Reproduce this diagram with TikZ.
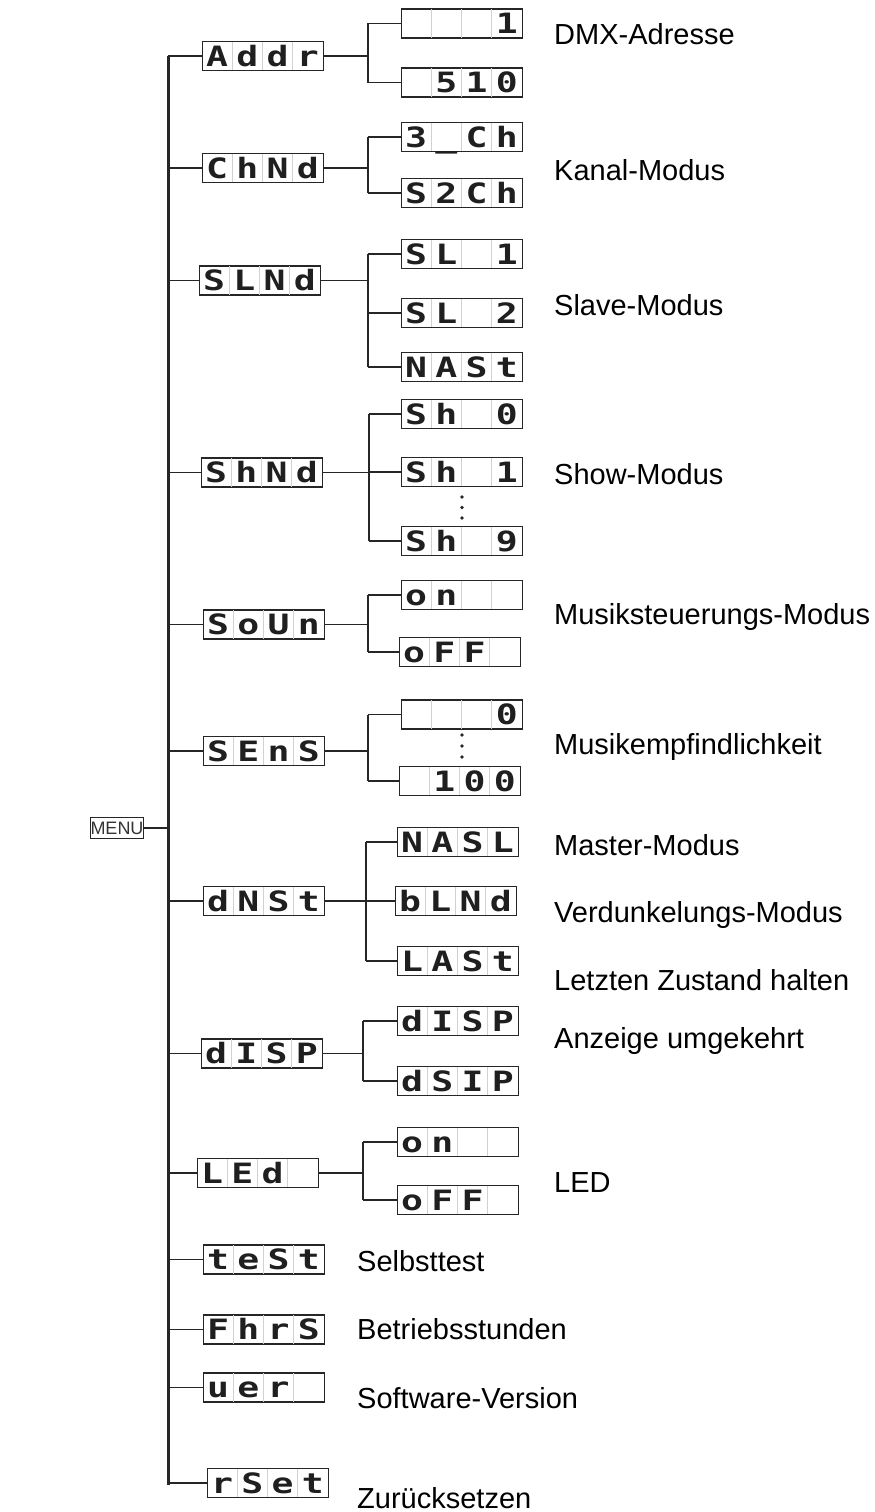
\documentclass[tikz,border=0pt]{standalone}
\usepackage{fontspec}
\setmainfont{Liberation Sans}
\newfontfamily\segfont[FakeStretch=1.3]{DejaVu Sans Mono}
\usetikzlibrary{calc}
\tikzset{
  dispbox/.style={draw=black!85, line width=1.3pt, minimum width=121pt, minimum height=29pt, inner sep=0pt, anchor=west},
  celldiv/.style={draw=black!18, line width=0.8pt},
  segtxt/.style={font=\segfont\bfseries\fontsize{28}{28}\selectfont, inner sep=0pt, anchor=base, text=black!88},
  lbl/.style={font=\fontsize{29}{34}\selectfont, anchor=base west, inner sep=0pt},
  conn/.style={line width=1.3pt, draw=black!85},
  thickconn/.style={line width=2.6pt, draw=black!85},
  mainline/.style={line width=3pt, draw=black!85},
  menubox/.style={draw=black!85, line width=1.1pt, minimum width=46pt, minimum height=21pt, inner sep=0pt, font=\fontsize{18}{18}\selectfont, text=black!80},
  dotmark/.style={circle, fill=black!85, inner sep=0pt, minimum size=3.6pt},
}
\newcommand\disp[7]{%
  \node[dispbox] (#1) at (#2,#3) {};
  \foreach \k in {1,2,3}{\draw[celldiv] ($(#1.north west)+(\k*30.25,0.8)$) -- ($(#1.south west)+(\k*30.25,-0.8)$);}
  \node[segtxt] (#1-1) at ($(#1.west)+(15.1,10.2)$) {#4};
  \node[segtxt] (#1-2) at ($(#1.west)+(45.4,10.2)$) {#5};
  \node[segtxt] (#1-3) at ($(#1.west)+(75.6,10.2)$) {#6};
  \node[segtxt] (#1-4) at ($(#1.west)+(105.9,10.2)$) {#7};
}
\begin{document}
\begin{tikzpicture}[x=1pt,y=-1pt]
\useasboundingbox (0,0) rectangle (875,1512);
% main spine
\coordinate (mtop) at (168,56);
\coordinate (mbot) at (168,1485);
\draw[mainline] (mtop) -- (mbot);
% MENU
\node[menubox] (menu) at (117,828) {MENU};
\draw[conn] (menu.east) -- (menu.east -| mtop);
% level 1
\disp{Addr}{202}{56}{A}{d}{d}{r}
\disp{ChNd}{202}{168}{C}{h}{N}{d}
\disp{SLNd}{199}{280.5}{S}{L}{N}{d}
\disp{ShNd}{201}{472.5}{S}{h}{N}{d}
\disp{SoUn}{203}{624.5}{S}{o}{U}{n}
\disp{SEnS}{203}{751}{S}{E}{n}{S}
\disp{dNSt}{203}{901}{d}{N}{S}{t}
\disp{dISP}{201}{1053.5}{d}{I}{S}{P}
\disp{LEd}{197}{1173}{L}{E}{d}{}
\disp{tESt}{203}{1259.5}{t}{e}{S}{t}
\disp{FhrS}{203}{1329.5}{F}{h}{r}{S}
\disp{uEr}{203}{1387.5}{u}{e}{r}{}
\disp{rSEt}{207}{1483}{r}{S}{e}{t}
\foreach \n in {Addr,ChNd,SLNd,ShNd,SoUn,SEnS,dNSt,dISP,LEd,tESt,FhrS,uEr,rSEt}
  {\draw[conn] (\n.west -| mtop) -- (\n.west);}
% level 2
\disp{A1}{401}{23.5}{}{}{}{1}
\disp{A2}{401}{82.5}{}{5}{1}{0}
\disp{C1}{401}{137}{3}{\_}{C}{h}
\disp{C2}{401}{193}{S}{2}{C}{h}
\disp{S1}{401}{254}{S}{L}{}{1}
\disp{S2}{401}{313}{S}{L}{}{2}
\disp{S3}{401}{367}{N}{A}{S}{t}
\disp{H0}{401}{414}{S}{h}{}{0}
\disp{H1}{401}{472}{S}{h}{}{1}
\disp{H9}{401}{541}{S}{h}{}{9}
\disp{O1}{401}{595}{o}{n}{}{}
\disp{O2}{399}{652}{o}{F}{F}{}
\disp{E1}{401}{714.5}{}{}{}{0}
\disp{E2}{399}{781}{}{1}{0}{0}
\disp{D1}{397}{842}{N}{A}{S}{L}
\disp{D2}{395}{901}{b}{L}{N}{d}
\disp{D3}{397}{961}{L}{A}{S}{t}
\disp{I1}{397}{1021}{d}{I}{S}{P}
\disp{I2}{397}{1081}{d}{S}{I}{P}
\disp{L1}{397}{1142}{o}{n}{}{}
\disp{L2}{397}{1200}{o}{F}{F}{}
% branch coordinates
\coordinate (bA) at (368,0);
\coordinate (bC) at (368,0);
\coordinate (bS) at (368,0);
\coordinate (bH) at (369,0);
\coordinate (bO) at (368,0);
\coordinate (bE) at (368,0);
\coordinate (bD) at (366,0);
\coordinate (bI) at (363,0);
\coordinate (bL) at (363,0);
% branches
\draw[conn] (A1.west -| bA) -- (A2.west -| bA);
\draw[conn] (Addr.east) -- (Addr.east -| bA);
\foreach \c in {A1,A2} {\draw[conn] (\c.west -| bA) -- (\c.west);}
\draw[conn] (C1.west -| bC) -- (C2.west -| bC);
\draw[conn] (ChNd.east) -- (ChNd.east -| bC);
\foreach \c in {C1,C2} {\draw[conn] (\c.west -| bC) -- (\c.west);}
\draw[conn] (S1.west -| bS) -- (S3.west -| bS);
\draw[conn] (SLNd.east) -- (SLNd.east -| bS);
\foreach \c in {S1,S2,S3} {\draw[conn] (\c.west -| bS) -- (\c.west);}
\draw[thickconn] (H0.west -| bH) -- (H9.west -| bH);
\draw[conn] (ShNd.east) -- (ShNd.east -| bH);
\foreach \c in {H0,H1,H9} {\draw[conn] (\c.west -| bH) -- (\c.west);}
\draw[conn] (O1.west -| bO) -- (O2.west -| bO);
\draw[conn] (SoUn.east) -- (SoUn.east -| bO);
\foreach \c in {O1,O2} {\draw[conn] (\c.west -| bO) -- (\c.west);}
\draw[conn] (E1.west -| bE) -- (E2.west -| bE);
\draw[conn] (SEnS.east) -- (SEnS.east -| bE);
\foreach \c in {E1,E2} {\draw[conn] (\c.west -| bE) -- (\c.west);}
\draw[conn] (D1.west -| bD) -- (D3.west -| bD);
\draw[conn] (dNSt.east) -- (dNSt.east -| bD);
\foreach \c in {D1,D2,D3} {\draw[conn] (\c.west -| bD) -- (\c.west);}
\draw[conn] (I1.west -| bI) -- (I2.west -| bI);
\draw[conn] (dISP.east) -- (dISP.east -| bI);
\foreach \c in {I1,I2} {\draw[conn] (\c.west -| bI) -- (\c.west);}
\draw[conn] (L1.west -| bL) -- (L2.west -| bL);
\draw[conn] (LEd.east) -- (LEd.east -| bL);
\foreach \c in {L1,L2} {\draw[conn] (\c.west -| bL) -- (\c.west);}
% ellipsis dots
\node[dotmark] (hd1) at (462,497) {};
\node[dotmark] (hd2) at (462,507.5) {};
\node[dotmark] (hd3) at (462,518) {};
\node[dotmark] (ed1) at (462,735) {};
\node[dotmark] (ed2) at (462,746) {};
\node[dotmark] (ed3) at (462,757) {};
% labels
\node[lbl] (t1) at (554,45) {DMX-Adresse};
\node[lbl] (t2) at (554,180) {Kanal-Modus};
\node[lbl] (t3) at (554,315) {Slave-Modus};
\node[lbl] (t4) at (554,484) {Show-Modus};
\node[lbl] (t5) at (554,624) {Musiksteuerungs-Modus};
\node[lbl] (t6) at (554,754) {Musikempfindlichkeit};
\node[lbl] (t7) at (554,855) {Master-Modus};
\node[lbl] (t8) at (554,922) {Verdunkelungs-Modus};
\node[lbl] (t9) at (554,990) {Letzten Zustand halten};
\node[lbl] (t10) at (554,1048) {Anzeige umgekehrt};
\node[lbl] (t11) at (554,1192) {LED};
\node[lbl] (t12) at (357,1271) {Selbsttest};
\node[lbl] (t13) at (357,1339) {Betriebsstunden};
\node[lbl] (t14) at (357,1408) {Software-Version};
\node[lbl] (t15) at (357,1508) {Zurücksetzen};
\end{tikzpicture}
\end{document}
